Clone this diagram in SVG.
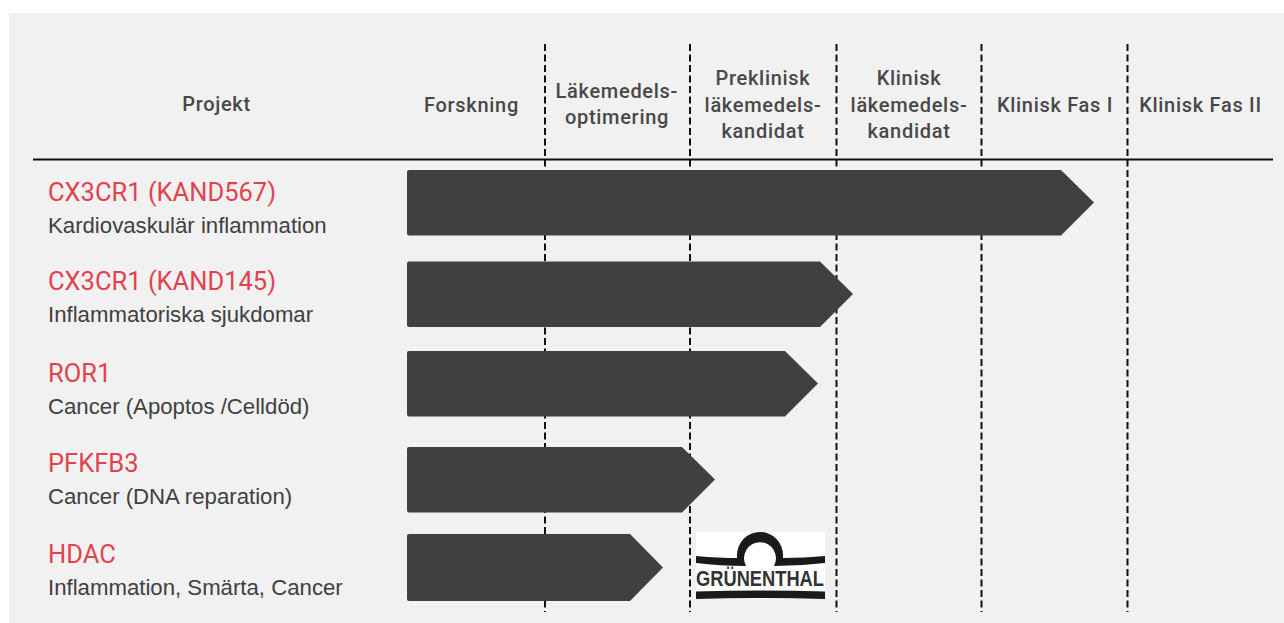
<svg xmlns="http://www.w3.org/2000/svg" width="1284" height="623" viewBox="0 0 1284 623">
<style>
text{font-family:"Roboto","Liberation Sans",sans-serif}
.h{font-size:20px;fill:#484848;text-anchor:middle;letter-spacing:.7px;font-weight:500}
.t{font-size:25.500px;fill:#e1434e}
.s{font-size:22.200px;fill:#404040;font-family:"Liberation Sans",sans-serif}
.d{stroke:#111;stroke-width:2;stroke-dasharray:7 3.5;fill:none}
.b{fill:#404040}
</style>
<rect width="1284" height="623" fill="#fff"/>
<rect x="9" y="13" width="1275" height="610" fill="#f1f1f1"/>
<g id="connectors">
<line class="d" x1="545" y1="44" x2="545" y2="612"/>
<line class="d" x1="690" y1="44" x2="690" y2="612"/>
<line class="d" x1="836.500" y1="44" x2="836.500" y2="612"/>
<line class="d" x1="981.500" y1="44" x2="981.500" y2="612"/>
<line class="d" x1="1127.500" y1="44" x2="1127.500" y2="612"/>
<line x1="33" y1="159.500" x2="1273" y2="159.500" stroke="#111" stroke-width="2"/>
</g>
<g id="head-projekt"><text class="h" x="216.500" y="110.500">Projekt</text></g>
<g id="head-forskning"><text class="h" x="471.500" y="111.500">Forskning</text></g>
<g id="head-optimering"><text class="h" x="616.800" y="97.500">Läkemedels-</text><text class="h" x="617" y="123.500">optimering</text></g>
<g id="head-preklinisk"><text class="h" x="763" y="84.500">Preklinisk</text><text class="h" x="763" y="111.500">läkemedels-</text><text class="h" x="763" y="137.500">kandidat</text></g>
<g id="head-klinisk"><text class="h" x="909" y="84.500">Klinisk</text><text class="h" x="909" y="111.500">läkemedels-</text><text class="h" x="909" y="137.500">kandidat</text></g>
<g id="head-fas1"><text class="h" x="1055" y="111.500">Klinisk Fas I</text></g>
<g id="head-fas2"><text class="h" x="1200.500" y="111.500">Klinisk Fas II</text></g>
<g id="row-kand567"><text class="t" x="48" y="201">CX3CR1 (KAND567)</text><text class="s" x="48" y="233">Kardiovaskulär inflammation</text><path class="b" d="M409 170H1061L1094 202.500L1061 235.500H409Q407 235.500 407 233.500V172Q407 170 409 170Z"/></g>
<g id="row-kand145"><text class="t" x="48" y="290">CX3CR1 (KAND145)</text><text class="s" x="48" y="322">Inflammatoriska sjukdomar</text><path class="b" d="M409 261.500H820L853 294L820 327H409Q407 327 407 325V263.500Q407 261.500 409 261.500Z"/></g>
<g id="row-ror1"><text class="t" x="48" y="382">ROR1</text><text class="s" x="48" y="414">Cancer (Apoptos /Celldöd)</text><path class="b" d="M409 351H785L818 383.500L785 416.500H409Q407 416.500 407 414.500V353Q407 351 409 351Z"/></g>
<g id="row-pfkfb3"><text class="t" x="48" y="472">PFKFB3</text><text class="s" x="48" y="504">Cancer (DNA reparation)</text><path class="b" d="M409 447H682L715 479.500L682 512.500H409Q407 512.500 407 510.500V449Q407 447 409 447Z"/></g>
<g id="row-hdac"><text class="t" x="48" y="563">HDAC</text><text class="s" x="48" y="595">Inflammation, Smärta, Cancer</text><path class="b" d="M409 534H630L663 567.500L630 601H409Q407 601 407 599V536Q407 534 409 534Z"/></g>
<g id="logo-grunenthal">
<rect x="696" y="532" width="129" height="67" fill="#fff"/>
<path d="M696 556Q720 558 737 558V555A23 23 0 0 1 783 555V558Q805 558 825 556V563Q800 566 774 566A16 16 0 1 0 746 566Q720 566 696 563Z" fill="#1a1a1a"/>
<text x="696" y="586" font-size="21.500" font-weight="700" fill="#333" textLength="128" lengthAdjust="spacingAndGlyphs" style="font-family:'Liberation Sans',sans-serif">GRÜNENTHAL</text>
<path d="M696 591.500Q760 589.500 825 591.500V599Q760 597 696 599Z" fill="#1a1a1a"/>
</g>
</svg>
